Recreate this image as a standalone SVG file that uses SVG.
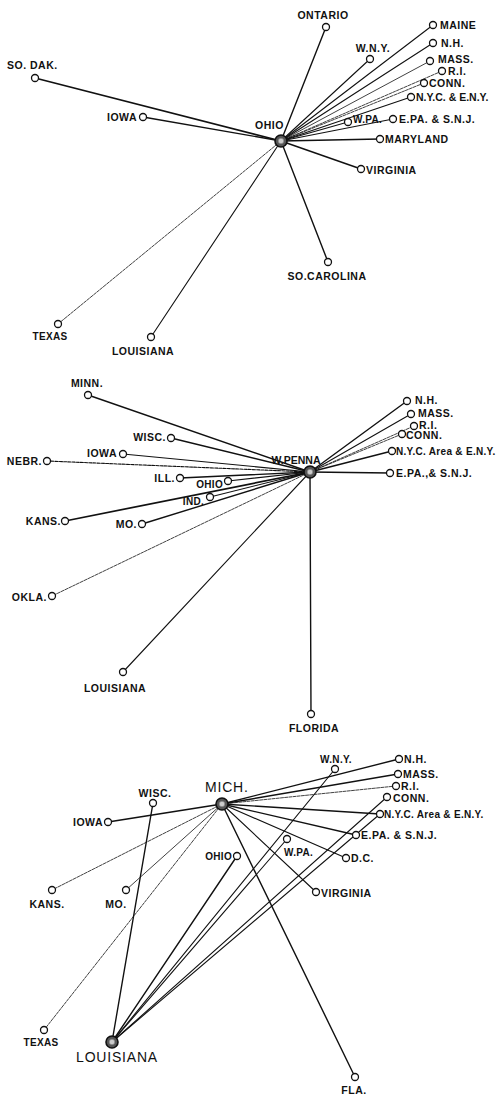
<svg xmlns="http://www.w3.org/2000/svg" width="496" height="1102" viewBox="0 0 496 1102">
<style>
.bg{fill:#fff}
.c{stroke:#111;fill:none;stroke-linecap:round}
.w4{stroke-width:1.7}
.w3{stroke-width:1.4}
.w2{stroke-width:1.1}
.w1{stroke-width:0.8}
.d{stroke-dasharray:3 1.2}
.n{fill:#fff;stroke:#111;stroke-width:1.3}
.hub{fill:#555;stroke:#111;stroke-width:1.6}
.hubin{fill:#ccc;stroke:#777;stroke-width:0.6}
text{font-family:"Liberation Sans",Arial,sans-serif;font-weight:bold;font-size:10.5px;letter-spacing:0.5px;fill:#111}
.big{font-size:14px;font-weight:normal;letter-spacing:0.8px}
.sm{font-size:10px;letter-spacing:0.3px}
.t0{letter-spacing:0px}
.e{text-anchor:end}
.m{text-anchor:middle}
</style>
<rect class="bg" x="0" y="0" width="496" height="1102"/>
<g id="connectors">
<!-- OHIO (top) -->
<line class="c w4" x1="281" y1="141" x2="35" y2="78"/>
<line class="c w3" x1="281" y1="141" x2="143" y2="117"/>
<line class="c w3" x1="281" y1="141" x2="326" y2="27"/>
<line class="c w2" x1="281" y1="141" x2="370" y2="59"/>
<line class="c w2" x1="281" y1="141" x2="433" y2="25"/>
<line class="c w2" x1="281" y1="141" x2="433" y2="43"/>
<line class="c w1" x1="281" y1="141" x2="430" y2="61"/>
<line class="c w1 d" x1="281" y1="141" x2="442" y2="71"/>
<line class="c w1 d" x1="281" y1="141" x2="424" y2="83"/>
<line class="c w2" x1="281" y1="141" x2="411" y2="97"/>
<line class="c w2" x1="281" y1="141" x2="348" y2="122"/>
<line class="c w2" x1="281" y1="141" x2="393" y2="119"/>
<line class="c w3" x1="281" y1="141" x2="380" y2="139"/>
<line class="c w3" x1="281" y1="141" x2="361" y2="169"/>
<line class="c w3" x1="281" y1="141" x2="328" y2="262"/>
<line class="c w1 d" x1="281" y1="141" x2="58" y2="324"/>
<line class="c w2" x1="281" y1="141" x2="151" y2="337"/>
<!-- W.PENNA (middle) -->
<line class="c w3" x1="310" y1="472" x2="88" y2="395"/>
<line class="c w3" x1="310" y1="472" x2="171" y2="438"/>
<line class="c w2" x1="310" y1="472" x2="123" y2="454"/>
<line class="c w2 d" x1="310" y1="472" x2="47" y2="461"/>
<line class="c w3" x1="310" y1="472" x2="180" y2="478"/>
<line class="c w2" x1="310" y1="472" x2="228" y2="481"/>
<line class="c w2" x1="310" y1="472" x2="210" y2="497"/>
<line class="c w4" x1="310" y1="472" x2="65" y2="521"/>
<line class="c w3" x1="310" y1="472" x2="142" y2="524"/>
<line class="c w1 d" x1="310" y1="472" x2="52" y2="596"/>
<line class="c w2" x1="310" y1="472" x2="123" y2="672"/>
<line class="c w3" x1="310" y1="472" x2="311" y2="714"/>
<line class="c w3" x1="310" y1="472" x2="407" y2="401"/>
<line class="c w2" x1="310" y1="472" x2="411" y2="414"/>
<line class="c w1 d" x1="310" y1="472" x2="414" y2="426"/>
<line class="c w1 d" x1="310" y1="472" x2="402" y2="434"/>
<line class="c w3" x1="310" y1="472" x2="392" y2="451"/>
<line class="c w3" x1="310" y1="472" x2="390" y2="473"/>
<!-- MICH (bottom) -->
<line class="c w4" x1="222" y1="804" x2="108" y2="822"/>
<line class="c w1 d" x1="222" y1="804" x2="52" y2="890"/>
<line class="c w1" x1="222" y1="804" x2="126" y2="890"/>
<line class="c w1 d" x1="222" y1="804" x2="44" y2="1030"/>
<line class="c w3" x1="222" y1="804" x2="399" y2="759"/>
<line class="c w3" x1="222" y1="804" x2="398" y2="774"/>
<line class="c w1 d" x1="222" y1="804" x2="396" y2="786"/>
<line class="c w3" x1="222" y1="804" x2="380" y2="814"/>
<line class="c w3" x1="222" y1="804" x2="356" y2="835"/>
<line class="c w2" x1="222" y1="804" x2="346" y2="858"/>
<line class="c w2" x1="222" y1="804" x2="316" y2="892"/>
<line class="c w3" x1="222" y1="804" x2="355" y2="1077"/>
<!-- LOUISIANA (bottom) -->
<line class="c w3" x1="112" y1="1042" x2="153" y2="803"/>
<line class="c w3" x1="112" y1="1042" x2="237" y2="856"/>
<line class="c w2" x1="112" y1="1042" x2="335" y2="769"/>
<line class="c w2" x1="112" y1="1042" x2="287" y2="839"/>
<line class="c w2" x1="112" y1="1042" x2="387" y2="797"/>
<line class="c w2" x1="112" y1="1042" x2="380" y2="814"/>
</g>
<g id="top">
<g id="t-ohio"><circle class="hub" cx="281" cy="141" r="6"/><circle class="hubin" cx="281" cy="141" r="2.8"/><text x="255" y="129">OHIO</text></g>
<g id="t-sodak"><circle class="n" cx="35" cy="78" r="3.5"/><text x="7" y="69">SO. DAK.</text></g>
<g id="t-iowa"><circle class="n" cx="143" cy="117" r="3.5"/><text class="e" x="137" y="121">IOWA</text></g>
<g id="t-ontario"><circle class="n" cx="326" cy="27" r="3.5"/><text class="m" x="323" y="19">ONTARIO</text></g>
<g id="t-wny"><circle class="n" cx="370" cy="59" r="3.5"/><text class="m" x="373" y="52">W.N.Y.</text></g>
<g id="t-maine"><circle class="n" cx="433" cy="25" r="3.5"/><text x="440" y="29">MAINE</text></g>
<g id="t-nh"><circle class="n" cx="433" cy="43" r="3.5"/><text x="441" y="47">N.H.</text></g>
<g id="t-mass"><circle class="n" cx="430" cy="61" r="3.5"/><text x="438" y="63">MASS.</text></g>
<g id="t-ri"><circle class="n" cx="442" cy="71" r="3.5"/><text x="448" y="75">R.I.</text></g>
<g id="t-conn"><circle class="n" cx="424" cy="83" r="3.5"/><text x="429" y="87">CONN.</text></g>
<g id="t-nyc"><circle class="n" cx="411" cy="97" r="3.5"/><text class="t0" x="416" y="101">N.Y.C. &amp; E.N.Y.</text></g>
<g id="t-wpa"><circle class="n" cx="348" cy="122" r="3.5"/><text class="sm" x="353" y="123">W.PA.</text></g>
<g id="t-epa"><circle class="n" cx="393" cy="119" r="3.5"/><text x="399" y="123">E.PA. &amp; S.N.J.</text></g>
<g id="t-maryland"><circle class="n" cx="380" cy="139" r="3.5"/><text x="385" y="143">MARYLAND</text></g>
<g id="t-virginia"><circle class="n" cx="361" cy="169" r="3.5"/><text x="366" y="174">VIRGINIA</text></g>
<g id="t-socarolina"><circle class="n" cx="328" cy="262" r="3.5"/><text class="m" x="327" y="280">SO.CAROLINA</text></g>
<g id="t-texas"><circle class="n" cx="58" cy="324" r="3.5"/><text class="m sm" x="50" y="340">TEXAS</text></g>
<g id="t-louisiana"><circle class="n" cx="151" cy="337" r="3.5"/><text class="m" x="143" y="355">LOUISIANA</text></g>
</g>
<g id="middle">
<g id="m-wpenna"><circle class="hub" cx="310" cy="472" r="6"/><circle class="hubin" cx="310" cy="472" r="2.8"/><text class="m t0" x="296" y="464">W.PENNA</text></g>
<g id="m-minn"><circle class="n" cx="88" cy="395" r="3.5"/><text class="m" x="87" y="387">MINN.</text></g>
<g id="m-wisc"><circle class="n" cx="171" cy="438" r="3.5"/><text class="e" x="166" y="441">WISC.</text></g>
<g id="m-iowa"><circle class="n" cx="123" cy="454" r="3.5"/><text class="e" x="117" y="457">IOWA</text></g>
<g id="m-nebr"><circle class="n" cx="47" cy="461" r="3.5"/><text class="e" x="42" y="465">NEBR.</text></g>
<g id="m-ill"><circle class="n" cx="180" cy="478" r="3.5"/><text class="e" x="175" y="482">ILL.</text></g>
<g id="m-ohio"><circle class="n" cx="228" cy="481" r="3.5"/><text class="e sm" x="223" y="488">OHIO</text></g>
<g id="m-ind"><circle class="n" cx="210" cy="497" r="3.5"/><text class="e sm" x="204" y="505">IND.</text></g>
<g id="m-kans"><circle class="n" cx="65" cy="521" r="3.5"/><text class="e" x="61" y="525">KANS.</text></g>
<g id="m-mo"><circle class="n" cx="142" cy="524" r="3.5"/><text class="e" x="137" y="528">MO.</text></g>
<g id="m-okla"><circle class="n" cx="52" cy="596" r="3.5"/><text class="e" x="47" y="601">OKLA.</text></g>
<g id="m-louisiana"><circle class="n" cx="123" cy="672" r="3.5"/><text class="m" x="115" y="692">LOUISIANA</text></g>
<g id="m-florida"><circle class="n" cx="311" cy="714" r="3.5"/><text class="m" x="314" y="732">FLORIDA</text></g>
<g id="m-nh"><circle class="n" cx="407" cy="401" r="3.5"/><text x="415" y="404">N.H.</text></g>
<g id="m-mass"><circle class="n" cx="411" cy="414" r="3.5"/><text x="418" y="417">MASS.</text></g>
<g id="m-ri"><circle class="n" cx="414" cy="426" r="3.5"/><text x="419" y="429">R.I.</text></g>
<g id="m-conn"><circle class="n" cx="402" cy="434" r="3.5"/><text x="406" y="439">CONN.</text></g>
<g id="m-nyc"><circle class="n" cx="392" cy="451" r="3.5"/><text class="sm" x="396" y="455">N.Y.C. Area &amp; E.N.Y.</text></g>
<g id="m-epa"><circle class="n" cx="390" cy="473" r="3.5"/><text x="396" y="477">E.PA.,&amp; S.N.J.</text></g>
</g>
<g id="bottom">
<g id="b-mich"><circle class="hub" cx="222" cy="804" r="6"/><circle class="hubin" cx="222" cy="804" r="2.8"/><text class="big" x="205" y="792">MICH.</text></g>
<g id="b-louisiana"><circle class="hub" cx="112" cy="1042" r="6"/><circle class="hubin" cx="112" cy="1042" r="2.8"/><text class="big m" x="117" y="1062">LOUISIANA</text></g>
<g id="b-wny"><circle class="n" cx="335" cy="769" r="3.5"/><text class="m sm" x="336" y="763">W.N.Y.</text></g>
<g id="b-nh"><circle class="n" cx="399" cy="759" r="3.5"/><text x="404" y="763">N.H.</text></g>
<g id="b-mass"><circle class="n" cx="398" cy="774" r="3.5"/><text x="403" y="778">MASS.</text></g>
<g id="b-ri"><circle class="n" cx="396" cy="786" r="3.5"/><text x="401" y="790">R.I.</text></g>
<g id="b-conn"><circle class="n" cx="387" cy="797" r="3.5"/><text x="393" y="802">CONN.</text></g>
<g id="b-nyc"><circle class="n" cx="380" cy="814" r="3.5"/><text class="sm" x="384" y="818">N.Y.C. Area &amp; E.N.Y.</text></g>
<g id="b-epa"><circle class="n" cx="356" cy="835" r="3.5"/><text x="361" y="839">E.PA. &amp; S.N.J.</text></g>
<g id="b-wpa"><circle class="n" cx="287" cy="839" r="3.5"/><text class="sm" x="284" y="856">W.PA.</text></g>
<g id="b-dc"><circle class="n" cx="346" cy="858" r="3.5"/><text x="351" y="862">D.C.</text></g>
<g id="b-ohio"><circle class="n" cx="237" cy="856" r="3.5"/><text class="e sm" x="232" y="860">OHIO</text></g>
<g id="b-virginia"><circle class="n" cx="316" cy="892" r="3.5"/><text x="321" y="897">VIRGINIA</text></g>
<g id="b-wisc"><circle class="n" cx="153" cy="803" r="3.5"/><text class="m" x="155" y="797">WISC.</text></g>
<g id="b-iowa"><circle class="n" cx="108" cy="822" r="3.5"/><text class="e" x="103" y="826">IOWA</text></g>
<g id="b-kans"><circle class="n" cx="52" cy="890" r="3.5"/><text class="m" x="47" y="908">KANS.</text></g>
<g id="b-mo"><circle class="n" cx="126" cy="890" r="3.5"/><text class="m" x="116" y="908">MO.</text></g>
<g id="b-texas"><circle class="n" cx="44" cy="1030" r="3.5"/><text class="m sm" x="41" y="1046">TEXAS</text></g>
<g id="b-fla"><circle class="n" cx="355" cy="1077" r="3.5"/><text class="m" x="354" y="1094">FLA.</text></g>
</g>
</svg>
